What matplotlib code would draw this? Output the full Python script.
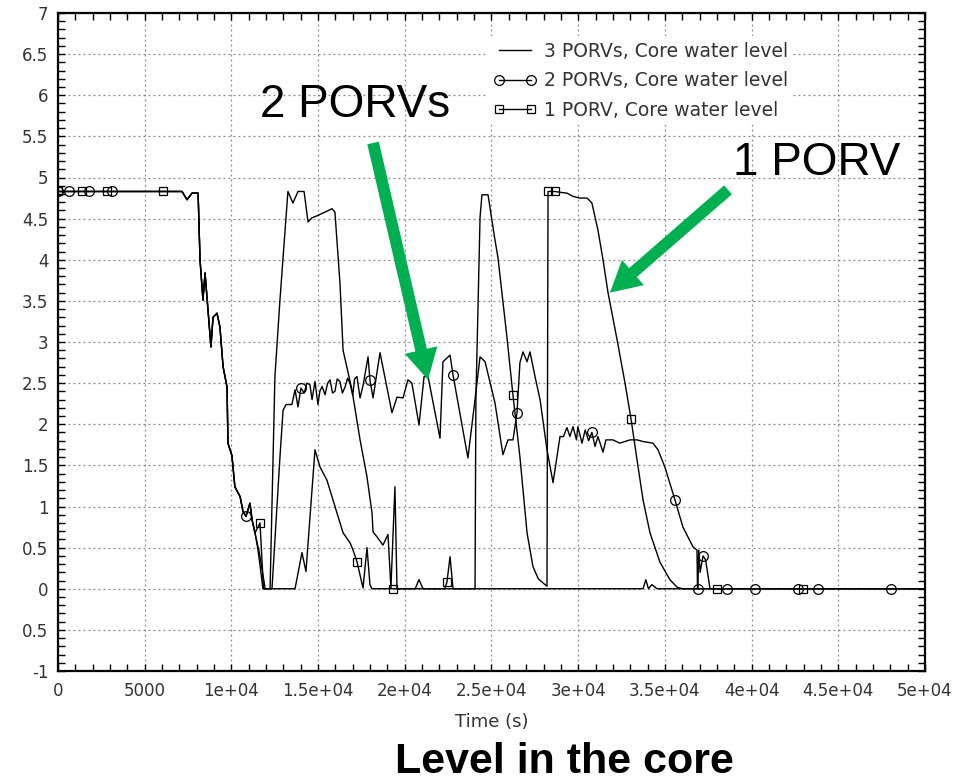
import numpy as np
import matplotlib
matplotlib.use("Agg")
import matplotlib.pyplot as plt
from matplotlib.ticker import MultipleLocator, FixedLocator, FixedFormatter

# ---- core water level, three depressurisation cases ----
# shared start: full core, then boil-down
t_common = [7150, 7440, 7730, 8080, 8190, 8360, 8480, 8820, 8940, 9170, 9340,
            9520, 9750, 9800, 10030, 10200, 10500, 10670, 10840, 11070, 11190, 11360]
y_common = [4.83, 4.73, 4.81, 4.81, 4.00, 3.51, 3.84, 2.94, 3.30, 3.35, 3.18,
            2.70, 2.45, 1.77, 1.62, 1.24, 1.12, 0.94, 0.88, 1.04, 0.84, 0.68]

# 3 PORVs
t3 = [0, 3000, 6000] + t_common + [
    11550, 11820, 12230, 12510, 12800, 13260, 13550, 13840, 14190, 14420, 14650,
    15000, 15400, 15800, 15970, 16260, 16440, 16950, 17420, 17820, 18110, 18170,
    18400, 18740, 19030, 19200, 19430, 19550, 20600, 20820, 21050, 33740, 33900,
    34050, 34250, 34540, 50000]
y3 = [4.83, 4.83, 4.83] + y_common + [
    0.45, 0.0, 0.0, 2.58, 3.51, 4.83, 4.69, 4.83, 4.83, 4.46, 4.51,
    4.54, 4.58, 4.62, 4.58, 3.72, 2.90, 2.42, 1.81, 1.36, 0.92, 0.69,
    0.63, 0.53, 0.66, 0.01, 1.24, 0.0, 0.0, 0.11, 0.0, 0.0, 0.11,
    0.0, 0.05, 0.0, 0.0]

# 2 PORVs
t2 = [0, 630, 1790, 3110, 6000] + t_common + [
    11600, 11950, 12340, 12800, 12980, 13150, 13490, 13670, 13840, 14010, 14200,
    14350, 14530, 14650, 14820, 14990, 15100, 15230, 15400, 15550, 15690, 15830,
    15970, 16100, 16260, 16400, 16550, 16700, 16840, 17000, 17100, 17240, 17420,
    17600, 17880, 17990, 18170, 18570, 19260, 19550, 19900, 20180,
    20410, 20820, 21110, 21340, 22030, 22200, 22610, 22780, 23640, 24050, 24340,
    24630, 25200, 25660, 25950, 26240, 26470, 26640, 26820, 27050, 27220, 27510,
    27800, 28200, 28550, 28950, 29150, 29350, 29520, 29700, 29900, 29980, 30220,
    30400, 30600, 30790, 30970, 31140, 31430, 31600, 32000, 32400, 32990, 33400,
    33740, 34310, 34600, 35000, 35580, 36040, 36620, 36850, 36880, 36900, 36950,
    37030, 37200, 37350, 37600, 38580, 40200, 42680, 43830, 48040, 50000]
y2 = [4.83, 4.83, 4.83, 4.83, 4.83] + y_common + [
    0.45, 0.0, 0.0, 1.60, 2.17, 2.24, 2.24, 2.42, 2.21, 2.44, 2.38,
    2.50, 2.48, 2.30, 2.52, 2.24, 2.40, 2.46, 2.36, 2.50, 2.54, 2.38,
    2.40, 2.55, 2.52, 2.38, 2.45, 2.56, 2.50, 2.35, 2.55, 2.58, 2.32,
    2.48, 2.82, 2.54, 2.32, 2.87, 2.14, 2.33, 2.32, 2.54,
    2.50, 1.99, 2.58, 2.58, 1.83, 2.76, 2.84, 2.60, 1.59, 2.30, 2.82,
    2.76, 2.26, 1.63, 1.81, 1.81, 2.14, 2.75, 2.88, 2.76, 2.88, 2.58,
    2.30, 1.69, 1.29, 1.85, 1.85, 1.96, 1.85, 1.97, 1.81, 1.97, 1.77,
    1.93, 1.80, 1.90, 1.73, 1.85, 1.66, 1.81, 1.81, 1.77, 1.81, 1.81,
    1.79, 1.77, 1.69, 1.48, 1.08, 0.75, 0.51, 0.47, 0.0, 0.0, 0.47,
    0.20, 0.40, 0.35, 0.0, 0.0, 0.0, 0.0, 0.0, 0.0, 0.0]

# 1 PORV
t1 = [0, 1380, 2840, 6030] + t_common + [
    11650, 11850, 13670, 14070, 14300, 14820, 15110, 15510, 16090, 16440, 16840,
    17000, 17240, 17590, 17820, 17990, 18100, 19320, 22300, 22430, 22610, 22780,
    24050, 24100, 24340, 24450, 24800, 25200, 25370, 25890, 26240, 26640, 27050,
    27390, 27700, 28200, 28260, 28660, 28950, 29350, 29700, 30100, 30510, 30790,
    31140, 31430, 31720, 32240, 32700, 33050, 33390, 33740, 34140, 34720, 35290,
    35700, 36000, 38000, 42960, 50000]
y1 = [4.83, 4.83, 4.83, 4.83] + y_common + [
    0.80, 0.0, 0.0, 0.44, 0.21, 1.69, 1.48, 1.32, 0.92, 0.68, 0.56,
    0.48, 0.33, 0.01, 0.50, 0.05, 0.0, 0.0, 0.0, 0.08, 0.39, 0.0,
    0.0, 2.30, 4.52, 4.79, 4.79, 4.24, 4.03, 3.06, 2.35, 1.60, 0.68,
    0.27, 0.12, 0.03, 4.83, 4.83, 4.82, 4.81, 4.77, 4.75, 4.75, 4.69,
    4.36, 4.00, 3.60, 3.03, 2.50, 2.06, 1.57, 1.08, 0.68, 0.32, 0.11,
    0.02, 0.0, 0.0, 0.0, 0.0]

# times carrying a symbol on each curve
circle_times = [0, 630, 1790, 3110, 10840, 14010, 17990, 22780, 26470, 30790,
                35580, 36900, 37200, 38580, 40200, 42680, 43830, 48040]
square_times = [0, 1380, 2840, 6030, 11650, 17240, 19320, 22430, 26240, 28260,
                28660, 33050, 38000, 42960]

x_ticks = [0, 5000, 10000, 15000, 20000, 25000, 30000, 35000, 40000, 45000, 50000]
x_labels = ['0', '5000', '1e+04', '1.5e+04', '2e+04', '2.5e+04', '3e+04',
            '3.5e+04', '4e+04', '4.5e+04', '5e+04']
y_ticks = [-1, -0.5, 0, 0.5, 1, 1.5, 2, 2.5, 3, 3.5, 4, 4.5, 5, 5.5, 6, 6.5, 7]
y_labels = ['-1', '0.5', '0', '0.5', '1', '1.5', '2', '2.5', '3', '3.5', '4',
            '4.5', '5', '5.5', '6', '6.5', '7']


def mark_idx(t, times):
    t = np.asarray(t)
    return [int(np.argmin(np.abs(t - v))) for v in times]


GREEN = '#00B050'
TICK_COL = '#333333'

fig = plt.figure(figsize=(9.57, 7.81), dpi=100)
ax = fig.add_axes([58 / 957, 1 - 671 / 781, 867 / 957, 658 / 781])

ax.plot(t3, y3, color='black', lw=1.0, label='3 PORVs, Core water level', zorder=3)
ax.plot(t2, y2, color='black', lw=1.0, marker='o', ms=7, mfc='none', mew=0.9,
        markevery=mark_idx(t2, circle_times), label='2 PORVs, Core water level', zorder=3)
ax.plot(t1, y1, color='black', lw=1.0, marker='s', ms=5.5, mfc='none', mew=0.9,
        markevery=mark_idx(t1, square_times), label='1 PORV, Core water level', zorder=3)

ax.set_xlim(0, 50000)
ax.set_ylim(-1, 7)
ax.xaxis.set_major_locator(FixedLocator(x_ticks))
ax.xaxis.set_major_formatter(FixedFormatter(x_labels))
ax.yaxis.set_major_locator(FixedLocator(y_ticks))
ax.yaxis.set_major_formatter(FixedFormatter(y_labels))
ax.xaxis.set_minor_locator(MultipleLocator(1000))
ax.yaxis.set_minor_locator(MultipleLocator(0.1))
ax.tick_params(which='both', direction='in', top=True, right=True,
               length=5, width=1, color='black', labelcolor=TICK_COL, labelsize=12)
ax.tick_params(axis='x', pad=8)
ax.tick_params(axis='y', pad=7)
ax.grid(True, which='major', color='#888888', linestyle=(0, (1.5, 2.5)), lw=0.9)
for s in ax.spines.values():
    s.set_linewidth(1.6)

ax.set_xlabel('Time (s)', fontsize=13, color=TICK_COL, labelpad=9)

leg = ax.legend(loc='upper left', bbox_to_anchor=(478 / 957, 1 - 27 / 781),
                bbox_transform=fig.transFigure, fontsize=13.5, numpoints=2,
                handlelength=2.3, handletextpad=0.4, labelspacing=0.55,
                frameon=True, facecolor='white', edgecolor='none', framealpha=1,
                borderpad=0.3)
for txt in leg.get_texts():
    txt.set_color(TICK_COL)

# callout arrows
arrow_style = 'simple,head_length=2.2,head_width=2.4,tail_width=0.85'
ax.annotate('', xy=(21340, 2.54), xytext=(18170, 5.42),
            arrowprops=dict(arrowstyle=arrow_style, color=GREEN, mutation_scale=10,
                            shrinkA=0, shrinkB=0, lw=0), zorder=5)
ax.annotate('', xy=(31830, 3.60), xytext=(38640, 4.85),
            arrowprops=dict(arrowstyle=arrow_style, color=GREEN, mutation_scale=10,
                            shrinkA=0, shrinkB=0, lw=0), zorder=5)

fig.text(355 / 957, 1 - 105 / 781, '2 PORVs', fontsize=33, family='Liberation Sans',
         ha='center', va='center')
fig.text(817 / 957, 1 - 163 / 781, '1 PORV', fontsize=33, family='Liberation Sans',
         ha='center', va='center')
fig.text(564 / 957, 1 - 762 / 781, 'Level in the core', fontsize=31,
         family='Liberation Sans', weight='bold', ha='center', va='center')

fig.savefig('out.png', dpi=100)
